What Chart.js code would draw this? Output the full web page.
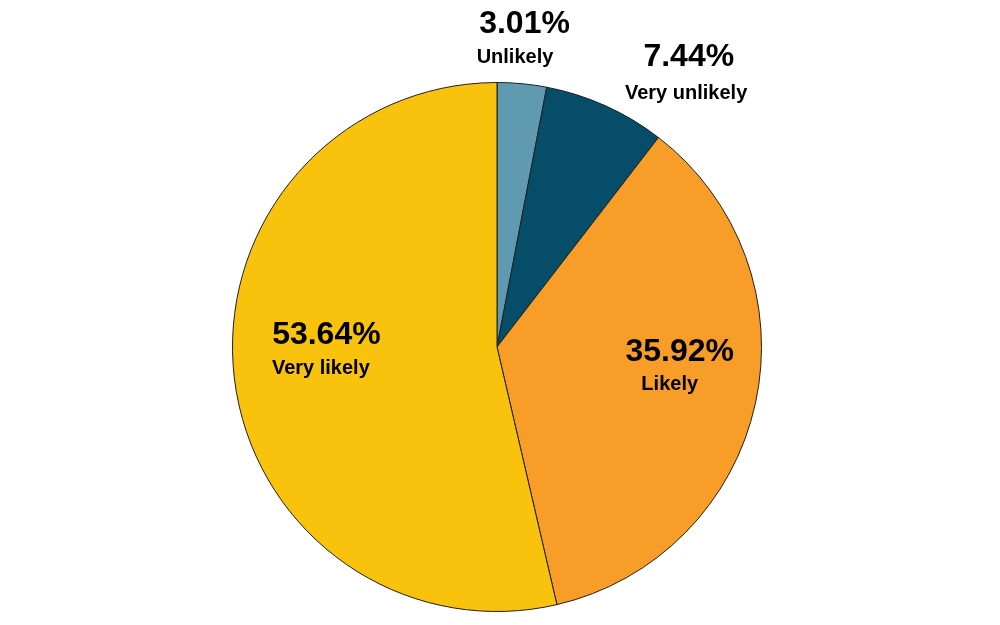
<!DOCTYPE html>
<html>
<head>
<meta charset="utf-8">
<script src="https://cdn.jsdelivr.net/npm/chart.js@4.4.1/dist/chart.umd.min.js"></script>
<style>
  html, body { margin: 0; padding: 0; background: #fff; }
  #wrap { width: 1000px; height: 625px; }
</style>
</head>
<body>
<div id="wrap"><canvas id="pie" width="1000" height="625"></canvas></div>
<script>
// answer categories, clockwise from 12 o'clock
const categories = ['Unlikely', 'Very unlikely', 'Likely', 'Very likely']
const shares = [3.01, 7.44, 35.92, 53.64]
const sliceColors = ['#5f9ab1', '#064d6a', '#f89d28', '#f8c20d']

// where each label sits, as a fraction of the radius from the centre
// [numberDx, numberDy, nameDx, nameDy]
const labelPlacement = [
  [0.104, -1.222, 0.068, -1.094],
  [0.725, -1.094, 0.715, -0.958],
  [0.691, 0.019, 0.653, 0.143],
  [-0.645, -0.045, -0.666, 0.083]
]

const sliceLabels = {
  id: 'sliceLabels',
  afterDatasetsDraw (chart) {
    const { ctx } = chart
    const arcs = chart.getDatasetMeta(0).data
    ctx.save()
    ctx.fillStyle = '#000'
    ctx.textAlign = 'center'
    ctx.textBaseline = 'middle'
    arcs.forEach((arc, i) => {
      const r = arc.outerRadius
      const p = labelPlacement[i]
      ctx.font = 'bold 32px "Liberation Sans", Arial, sans-serif'
      ctx.fillText(shares[i].toFixed(2) + '%', arc.x + p[0] * r, arc.y + p[1] * r)
      ctx.font = 'bold 20px "Liberation Sans", Arial, sans-serif'
      ctx.fillText(categories[i], arc.x + p[2] * r, arc.y + p[3] * r)
    })
    ctx.restore()
  }
}

new Chart(document.getElementById('pie'), {
  type: 'pie',
  data: {
    labels: categories,
    datasets: [{
      data: shares,
      backgroundColor: sliceColors,
      borderColor: '#1f1f1f',
      borderWidth: 1
    }]
  },
  options: {
    responsive: false,
    animation: false,
    layout: { padding: { top: 82, bottom: 13, left: 0, right: 6 } },
    plugins: {
      legend: { display: false },
      tooltip: { enabled: false }
    }
  },
  plugins: [sliceLabels]
})
</script>
</body>
</html>
